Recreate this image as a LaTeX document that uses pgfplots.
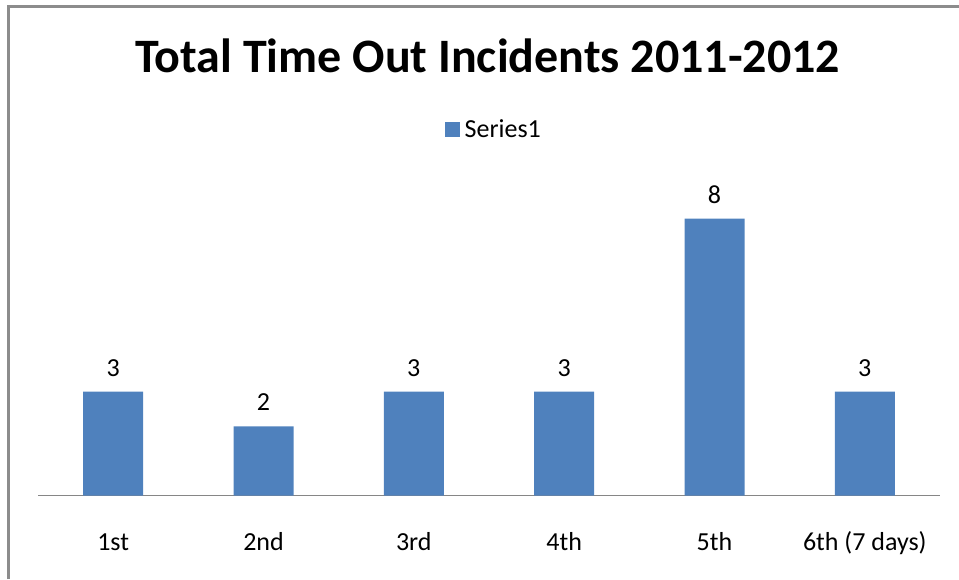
\documentclass[border=0pt]{standalone}
\usepackage{pgfplots}
\pgfplotsset{compat=1.18}
\usepackage{fontspec}
\setmainfont{Carlito}
\definecolor{barblue}{HTML}{4F81BD}
\definecolor{axisgrey}{HTML}{868686}
\definecolor{framegrey}{HTML}{8C8C8C}
\begin{document}
\begin{tikzpicture}[x=1pt,y=1pt]
  \useasboundingbox (0,0) rectangle (959,579);
  % chart frame (continues past the right and bottom edges)
  \draw[framegrey, line width=2.2pt] (8.5,0) -- (8.5,572.5) -- (959,572.5);
  % title
  \node[anchor=base, inner sep=0pt, font=\fontsize{48}{58}\selectfont\bfseries]
    at (487.5,506.5) {Total Time Out Incidents 2011-2012};
  \begin{axis}[
      at={(38pt,83.5pt)}, anchor=south west,
      scale only axis, width=902pt, height=346pt,
      xmin=-0.5, xmax=5.5, ymin=0, ymax=10,
      ybar, bar width=60pt,
      axis x line*=bottom, hide y axis,
      axis line style={axisgrey, line width=1.6pt},
      xtick={0,1,2,3,4,5},
      xticklabels={1st,2nd,3rd,4th,5th,6th (7 days)},
      xtick style={draw=none},
      xticklabel style={anchor=base, yshift=-50.5pt, inner sep=0pt,
        font=\fontsize{26}{31}\selectfont},
      nodes near coords,
      nodes near coords style={anchor=base, yshift=15.5pt, inner sep=0pt,
        font=\fontsize{26}{31}\selectfont, text=black},
      /pgf/number format/assume math mode=true,
      legend style={at={(rel axis cs:0.4512,1.059)}, anchor=west,
        draw=none, fill=none, font=\fontsize{26}{31}\selectfont,
        inner sep=0pt, column sep=0pt, nodes={inner xsep=4.5pt}},
      legend image code/.code={\fill[barblue] (0pt,-7.5pt) rectangle (15pt,7.5pt);},
      legend cell align=left,
    ]
    \addplot[fill=barblue, draw=none] coordinates {
      (0,3) (1,2) (2,3) (3,3) (4,8) (5,3)
    };
    \legend{Series1}
  \end{axis}
\end{tikzpicture}
\end{document}
